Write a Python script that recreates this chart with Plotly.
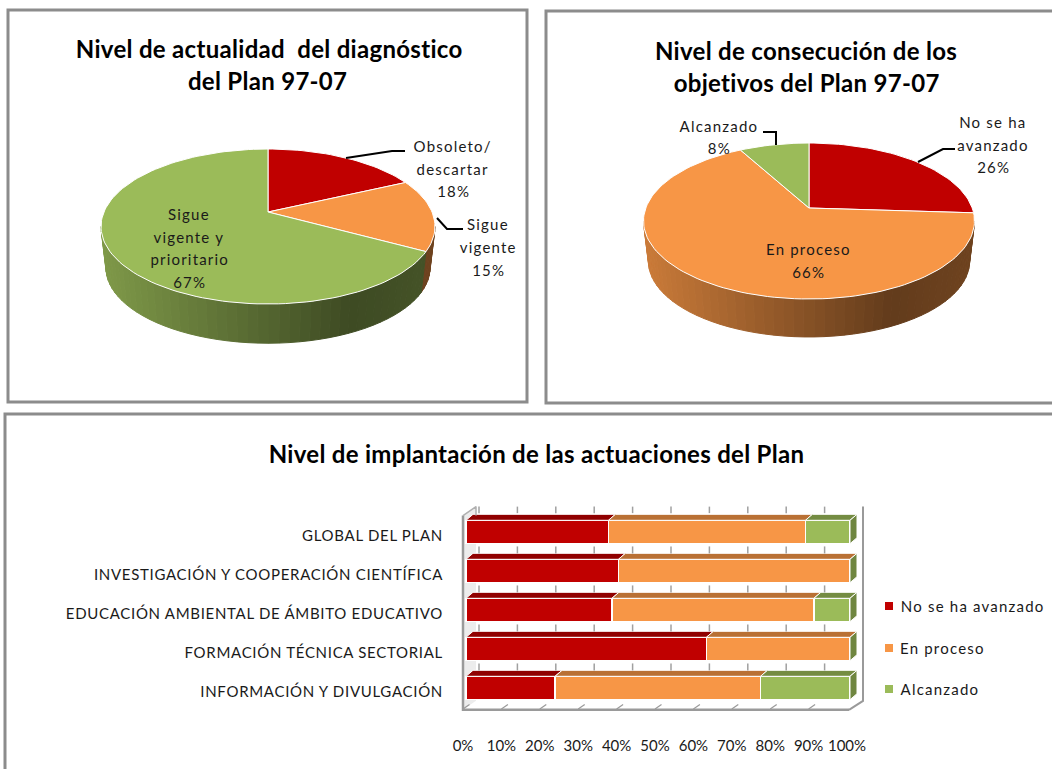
import math
import plotly.graph_objects as go

# ---------- data ----------
PIE1_TITLE = ["Nivel de actualidad  del diagnóstico", "del Plan 97-07"]
PIE1_NAMES = ["Obsoleto/ descartar", "Sigue vigente", "Sigue vigente y prioritario"]
PIE1_VALUES = [18, 15, 67]

PIE2_TITLE = ["Nivel de consecución de los", "objetivos del Plan 97-07"]
PIE2_NAMES = ["No se ha avanzado", "En proceso", "Alcanzado"]
PIE2_VALUES = [26, 66, 8]

BAR_TITLE = "Nivel de implantación de las actuaciones del Plan"
CATEGORIES = ["INFORMACIÓN Y DIVULGACIÓN", "FORMACIÓN TÉCNICA SECTORIAL",
              "EDUCACIÓN AMBIENTAL DE ÁMBITO EDUCATIVO",
              "INVESTIGACIÓN Y COOPERACIÓN CIENTÍFICA", "GLOBAL DEL PLAN"]
NO_AVANZADO = [23.2, 62.6, 38.0, 39.7, 37.1]
EN_PROCESO = [53.5, 37.4, 52.6, 60.3, 51.3]
ALCANZADO = [23.3, 0, 9.4, 0, 11.6]
X_TICKS = [0, 10, 20, 30, 40, 50, 60, 70, 80, 90, 100]

# ---------- style ----------
RED, ORANGE, GREEN = "#C00000", "#F79646", "#9BBB59"
FONT = "Lato"
TXT = "#1a1a1a"
W, H = 1052, 769


def shade(c, f):
    return "rgb({},{},{})".format(*[int(int(c[i:i + 2], 16) * f) for i in (1, 3, 5)])


fig = go.Figure()


def poly(xs, ys, color, line=None, lw=1, xa="x", ya="y"):
    fig.add_trace(go.Scatter(x=xs, y=ys, mode="lines", fill="toself", fillcolor=color,
                             line=dict(color=line or color, width=lw), xaxis=xa, yaxis=ya,
                             hoverinfo="skip", showlegend=False))


def path(xs, ys, color="#000000", lw=2, xa="x", ya="y"):
    fig.add_trace(go.Scatter(x=xs, y=ys, mode="lines", line=dict(color=color, width=lw),
                             xaxis=xa, yaxis=ya, hoverinfo="skip", showlegend=False))


def text(x, y, s, size=15, bold=False, anchor="center", xref="x", yref="y"):
    fig.add_annotation(x=x, y=y, text=f"<b>{s}</b>" if bold else s, showarrow=False, xref=xref, yref=yref,
                       xanchor=anchor, yanchor="middle",
                       font=dict(family=FONT, size=size, color="#000000" if bold else TXT))


def pie(values, colors, cx, cy, rx, up, down, depth, shrink=0.97):
    k = (down - up) / (down + up)
    a = up * (1 + k)
    b = rx * math.sqrt(1 - k * k)

    def rim(deg, s=1.0, dz=0.0):
        t = math.radians(deg)
        d = 1 + k * math.cos(t)
        return cx + s * b * math.sin(t) / d, cy - s * a * math.cos(t) / d + dz

    total = sum(values)
    edges = [0]
    for v in values:
        edges.append(edges[-1] + v / total * 360)
    vis0 = math.degrees(math.acos(-k))
    vis1 = 360 - vis0
    # side wall, shaded left to right
    for i, c in enumerate(colors):
        lo, hi = max(edges[i], vis0), min(edges[i + 1], vis1)
        if hi <= lo:
            continue
        n = max(1, int((hi - lo) / 3))
        for j in range(n):
            t0, t1 = lo + (hi - lo) * j / n, lo + (hi - lo) * (j + 1) / n
            p = [rim(t0), rim(t1), rim(t1, shrink, depth), rim(t0, shrink, depth)]
            f = ((p[0][0] + p[1][0]) / 2 - (cx - rx)) / (2 * rx)
            g = 0.82 - (0.82 - 0.40) * f / 0.75 if f < 0.75 else 0.40 + 0.05 * (f - 0.75) / 0.25
            poly([q[0] for q in p] + [p[0][0]], [q[1] for q in p] + [p[0][1]], shade(c, g))
    # top surface
    for i, c in enumerate(colors):
        n = max(2, int((edges[i + 1] - edges[i]) / 2))
        arc = [rim(edges[i] + (edges[i + 1] - edges[i]) * j / n) for j in range(n + 1)]
        poly([cx] + [q[0] for q in arc] + [cx], [cy] + [q[1] for q in arc] + [cy], c, line="#ffffff", lw=1)


# ---------- frames ----------
FRAMES = [(8, 10, 527, 402), (546, 11, 1056, 403), (5, 414, 1056, 773)]
for x0, y0, x1, y1 in FRAMES:
    fig.add_shape(type="rect", xref="x", yref="y", x0=x0, x1=x1, y0=y0, y1=y1,
                  line=dict(color="#8c8c8c", width=3), layer="below")

# ---------- pie 1 ----------
pie(PIE1_VALUES, [RED, ORANGE, GREEN], 268, 212, 167, 63, 92, 42)
path([346, 392, 405], [158, 151, 151])
path([437, 447, 463], [218, 229, 229])
text(269, 48, PIE1_TITLE[0], 24, True)
text(267, 80, PIE1_TITLE[1], 24, True)
for y, s in zip((146, 169, 191), ("Obsoleto/", "descartar", f"{PIE1_VALUES[0]}%")):
    text(453, y, s)
for y, s in zip((224, 247, 270), ("Sigue", "vigente", f"{PIE1_VALUES[1]}%")):
    text(488, y, s)
for y, s in zip((214, 237, 259, 282), ("Sigue", "vigente y", "prioritario", f"{PIE1_VALUES[2]}%")):
    text(189, y, s)

# ---------- pie 2 ----------
pie(PIE2_VALUES, [RED, ORANGE, GREEN], 809, 208, 165.5, 65, 91, 40.7)
path([763, 776, 776], [132, 132, 145])
path([918, 943, 955], [162, 149, 149])
text(806, 50, PIE2_TITLE[0], 24, True)
text(806, 82, PIE2_TITLE[1], 24, True)
for y, s in zip((122, 145, 167), ("No se ha", "avanzado", f"{PIE2_VALUES[0]}%")):
    text(993, y, s)
for y, s in zip((249, 272), ("En proceso", f"{PIE2_VALUES[1]}%")):
    text(808, y, s)
for y, s in zip((126, 148), ("Alcanzado", f"{PIE2_VALUES[2]}%")):
    text(719, y, s)

# ---------- stacked bars ----------
text(536, 453, BAR_TITLE, 24, True)
Y_POS = list(range(len(CATEGORIES)))
BAR_W = 0.6
PX_X, PX_Y = 3.84, 39.0          # pixels per axis unit
DX, DY = 7 / PX_X, 6 / PX_Y      # bar depth
WX, WY = 13 / PX_X, 9 / PX_Y     # wall depth
L, R = -3 / PX_X, 100 - 1 / PX_X
FLOOR, TOP = -0.56, 4.42

SERIES = [("No se ha avanzado", NO_AVANZADO, RED), ("En proceso", EN_PROCESO, ORANGE), ("Alcanzado", ALCANZADO, GREEN)]

# wall, behind every bar
fig.add_shape(type="path", xref="x2", yref="y2", layer="below", line=dict(width=0), fillcolor="#ececec",
              path=f"M{L},{FLOOR} L{L + WX},{FLOOR + WY} L{L + WX},{TOP + WY} L{L},{TOP} Z")

for name, vals, col in SERIES:
    fig.add_trace(go.Bar(y=Y_POS, x=vals, name=name, orientation="h", width=BAR_W, xaxis="x2", yaxis="y2",
                         marker=dict(color=col, line=dict(color="#ffffff", width=1.5)), hoverinfo="skip",
                         showlegend=False))

base = [0] * len(Y_POS)
for name, vals, col in SERIES:
    xs, ys = [], []
    for i, v in enumerate(vals):
        if v > 0:
            x0, x1, yt = base[i], base[i] + v, Y_POS[i] + BAR_W / 2
            xs += [x0, x0 + DX, x1 + DX, x1, x0, None]
            ys += [yt, yt + DY, yt + DY, yt, yt, None]
        base[i] += v
    poly(xs, ys, shade(col, 0.75), line="#ffffff", lw=1, xa="x2", ya="y2")

# right end of the bars
xs, ys = [], []
for y in Y_POS:
    xs += [100, 100 + DX, 100 + DX, 100, 100, None]
    ys += [y + BAR_W / 2, y + BAR_W / 2 + DY, y - BAR_W / 2 + DY, y - BAR_W / 2, y + BAR_W / 2, None]
poly(xs, ys, shade(GREEN, 0.72), line="#ffffff", lw=1, xa="x2", ya="y2")

# wall ticks
xs, ys = [], []
for t in X_TICKS[:-1]:
    xb = t + WX
    xs += [xb, xb, None]
    ys += [TOP + WY, Y_POS[-1] + BAR_W / 2 + DY + 0.03, None]
    for y in Y_POS[1:]:
        xs += [xb, xb, None]
        ys += [y - BAR_W / 2 - 0.07, y - BAR_W / 2 - 0.25, None]
path(xs, ys, "#a0a0a0", 1.5, "x2", "y2")
xs, ys = [], []
for t in X_TICKS[:-1]:
    xs += [t + L, t + L + WX * 0.5, None]
    ys += [FLOOR + 0.02, FLOOR + 0.02 + WY * 0.5, None]
path(xs, ys, "#9a9a9a", 1.2, "x2", "y2")

# box edges
path([L, L, R], [TOP, FLOOR, FLOOR], "#9a9a9a", 2.5, "x2", "y2")
path([L, L + WX, L + WX], [TOP, TOP + WY, TOP], "#b0b0b0", 1.5, "x2", "y2")
path([100 + WX, 100 + WX, R], [TOP + WY, FLOOR + WY, FLOOR], "#9a9a9a", 2, "x2", "y2")

# legend
LEG_Y = [606, 648, 689]
LEG_TEXT_X = [972, 942, 940]
fig.add_trace(go.Scatter(x=[889] * 3, y=LEG_Y, mode="markers",
                         marker=dict(symbol="square", size=8, color=[s[2] for s in SERIES]),
                         hoverinfo="skip", showlegend=False, cliponaxis=False))
for s, x, y in zip(SERIES, LEG_TEXT_X, LEG_Y):
    text(x, y, s[0])

# ---------- layout ----------
fig.update_layout(
    width=W, height=H, margin=dict(l=0, r=0, t=0, b=0), autosize=False,
    paper_bgcolor="#ffffff", plot_bgcolor="rgba(0,0,0,0)", showlegend=False, barmode="stack", hovermode=False,
    xaxis=dict(domain=[0, 1], range=[0, W], visible=False, fixedrange=True),
    yaxis=dict(domain=[0, 1], range=[H, 0], visible=False, fixedrange=True),
    xaxis2=dict(domain=[446 / W, 870 / W], range=[(446 - 466) / PX_X, (870 - 466) / PX_X], anchor="y2",
                tickvals=X_TICKS, ticktext=[f"{t}%" for t in X_TICKS], ticks="outside", ticklen=12,
                ticklabelshift=-3,
                tickcolor="rgba(0,0,0,0)", showgrid=False, zeroline=False, showline=False, fixedrange=True,
                tickfont=dict(family=FONT, size=15, color=TXT)),
    yaxis2=dict(domain=[(H - 720) / H, (H - 500) / H], range=[(688 - 720) / PX_Y, (688 - 500) / PX_Y], anchor="x2",
                tickvals=Y_POS, ticktext=CATEGORIES, ticks="", showgrid=False, zeroline=False, showline=False,
                ticklabelshift=4, ticklabelstandoff=2,
                fixedrange=True, tickfont=dict(family=FONT, size=15, color=TXT)),
)

SPACING = """
document.body.style.margin='0';
document.querySelectorAll('.annotation-text').forEach(function(t){
  var bold = t.innerHTML.indexOf('bold') >= 0;
  t.style.letterSpacing = bold ? '0.3px' : '1.2px';
});
document.querySelectorAll('.y2tick text').forEach(function(t){ t.style.letterSpacing = '0.7px'; });
"""
fig.write_html("out.html", post_script=SPACING, config=dict(displayModeBar=False))
